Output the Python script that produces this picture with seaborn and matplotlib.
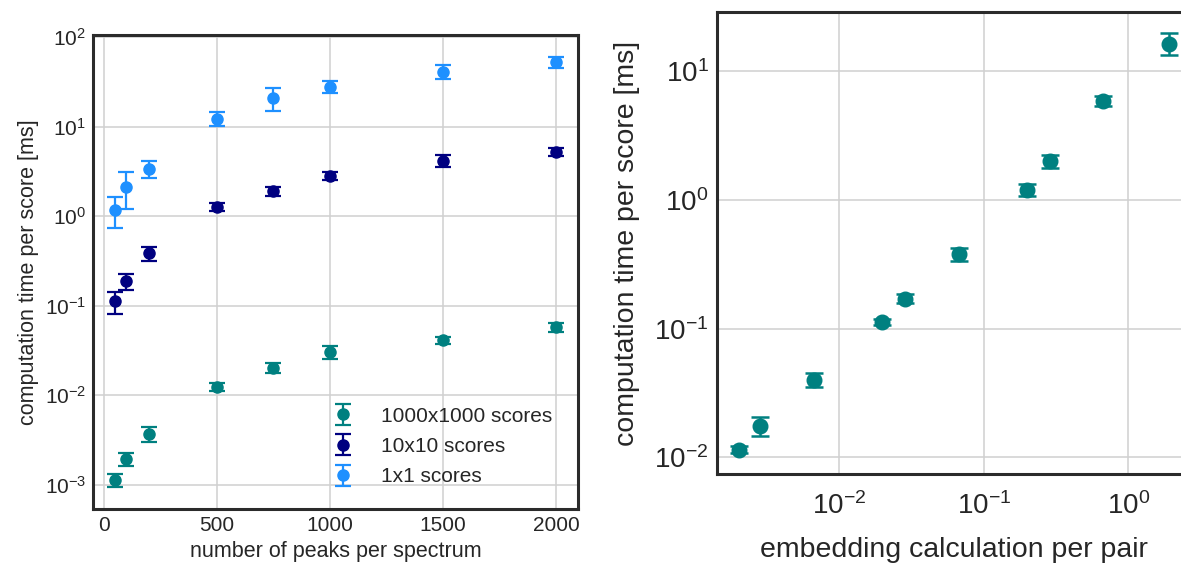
import matplotlib
matplotlib.use("Agg")
import matplotlib.pyplot as plt
import seaborn as sns

# --- timing vs. number of peaks (left panel) ---
peaks = [50, 100, 200, 500, 750, 1000, 1500, 2000]

t_1000 = [0.00112, 0.00193, 0.00368, 0.0124, 0.0203, 0.0301, 0.0411, 0.0575]
t_1000_lo = [0.00093, 0.00161, 0.00302, 0.0112, 0.0178, 0.0256, 0.0374, 0.0510]
t_1000_hi = [0.00133, 0.00227, 0.00440, 0.0136, 0.0227, 0.0356, 0.0445, 0.0644]

t_10 = [0.113, 0.187, 0.389, 1.26, 1.89, 2.80, 4.13, 5.20]
t_10_lo = [0.081, 0.150, 0.316, 1.13, 1.67, 2.51, 3.54, 4.73]
t_10_hi = [0.144, 0.226, 0.454, 1.40, 2.11, 3.13, 4.82, 5.72]

t_1 = [1.17, 2.13, 3.39, 12.1, 21.1, 27.5, 41.3, 53.0]
t_1_lo = [0.73, 1.20, 2.66, 10.1, 15.1, 23.8, 34.4, 45.4]
t_1_hi = [1.62, 3.08, 4.09, 14.6, 27.1, 32.1, 48.6, 60.8]

series_labels = ["1000x1000 scores", "10x10 scores", "1x1 scores"]
series_colors = ["#008080", "#000080", "#1e90ff"]

# --- score time vs. embedding time (right panel) ---
emb_time = [0.00201, 0.00284, 0.00668, 0.0199, 0.0284, 0.067, 0.200, 0.288, 0.673, 1.93]
score_time = [0.01146, 0.0175, 0.0400, 0.112, 0.171, 0.381, 1.20, 2.01, 5.92, 16.4]
score_lo = [0.0108, 0.0146, 0.0349, 0.107, 0.158, 0.335, 1.08, 1.77, 5.36, 13.4]
score_hi = [0.0122, 0.0204, 0.0453, 0.118, 0.185, 0.427, 1.33, 2.26, 6.48, 19.9]

sns.set_style("white", {
    "axes.edgecolor": "#2b2b2b",
    "grid.color": "#d0d0d0",
})
plt.rcParams["axes.linewidth"] = 2.2
plt.rcParams["font.family"] = ["Liberation Sans", "DejaVu Sans"]
plt.rcParams["mathtext.fontset"] = "custom"
plt.rcParams["mathtext.rm"] = "Liberation Sans"
plt.rcParams["mathtext.it"] = "Liberation Sans:italic"

fig = plt.figure(figsize=(11.81, 5.63), dpi=100)
ax1 = fig.add_axes([0.0787, 0.0959, 0.4107, 0.8419])
ax2 = fig.add_axes([0.6071, 0.1581, 0.4014, 0.8206])


def asym(vals, lo, hi):
    return [[v - l for v, l in zip(vals, lo)], [h - v for v, h in zip(vals, hi)]]


for vals, lo, hi, lab, col in zip(
    [t_1000, t_10, t_1],
    [t_1000_lo, t_10_lo, t_1_lo],
    [t_1000_hi, t_10_hi, t_1_hi],
    series_labels,
    series_colors,
):
    ax1.errorbar(peaks, vals, yerr=asym(vals, lo, hi), fmt="o", color=col,
                 markersize=8, elinewidth=1.6, capsize=5.5, capthick=1.6,
                 label=lab, zorder=3)

ax1.set_yscale("log")
ax1.grid(True, which="major", linewidth=1.1)
ax1.set_axisbelow(True)
ax1.set_xticks([0, 500, 1000, 1500, 2000])
ax1.tick_params(labelsize=15, pad=5, length=0)
ax1.set_xlabel("number of peaks per spectrum", fontsize=15.5, labelpad=4)
ax1.set_ylabel("computation time per score [ms]", fontsize=15.5)
ax1.legend(loc="lower right", fontsize=15, frameon=False, labelspacing=0.55,
           bbox_to_anchor=(0.985, 0.008))

ax2.errorbar(emb_time, score_time, yerr=asym(score_time, score_lo, score_hi),
             fmt="o", color=series_colors[0], markersize=10.5, elinewidth=1.8,
             capsize=6.5, capthick=1.8, zorder=3)
ax2.set_xscale("log")
ax2.set_yscale("log")
ax2.grid(True, which="major", linewidth=1.1)
ax2.set_axisbelow(True)
ax2.tick_params(labelsize=20, length=0)
ax2.tick_params(axis="x", pad=13)
ax2.tick_params(axis="y", pad=6)
ax2.set_xlabel("embedding calculation per pair", fontsize=20.5, labelpad=12)
ax2.set_ylabel("computation time per score [ms]", fontsize=20.5, labelpad=10)

fig.savefig("out.png", dpi=100)
